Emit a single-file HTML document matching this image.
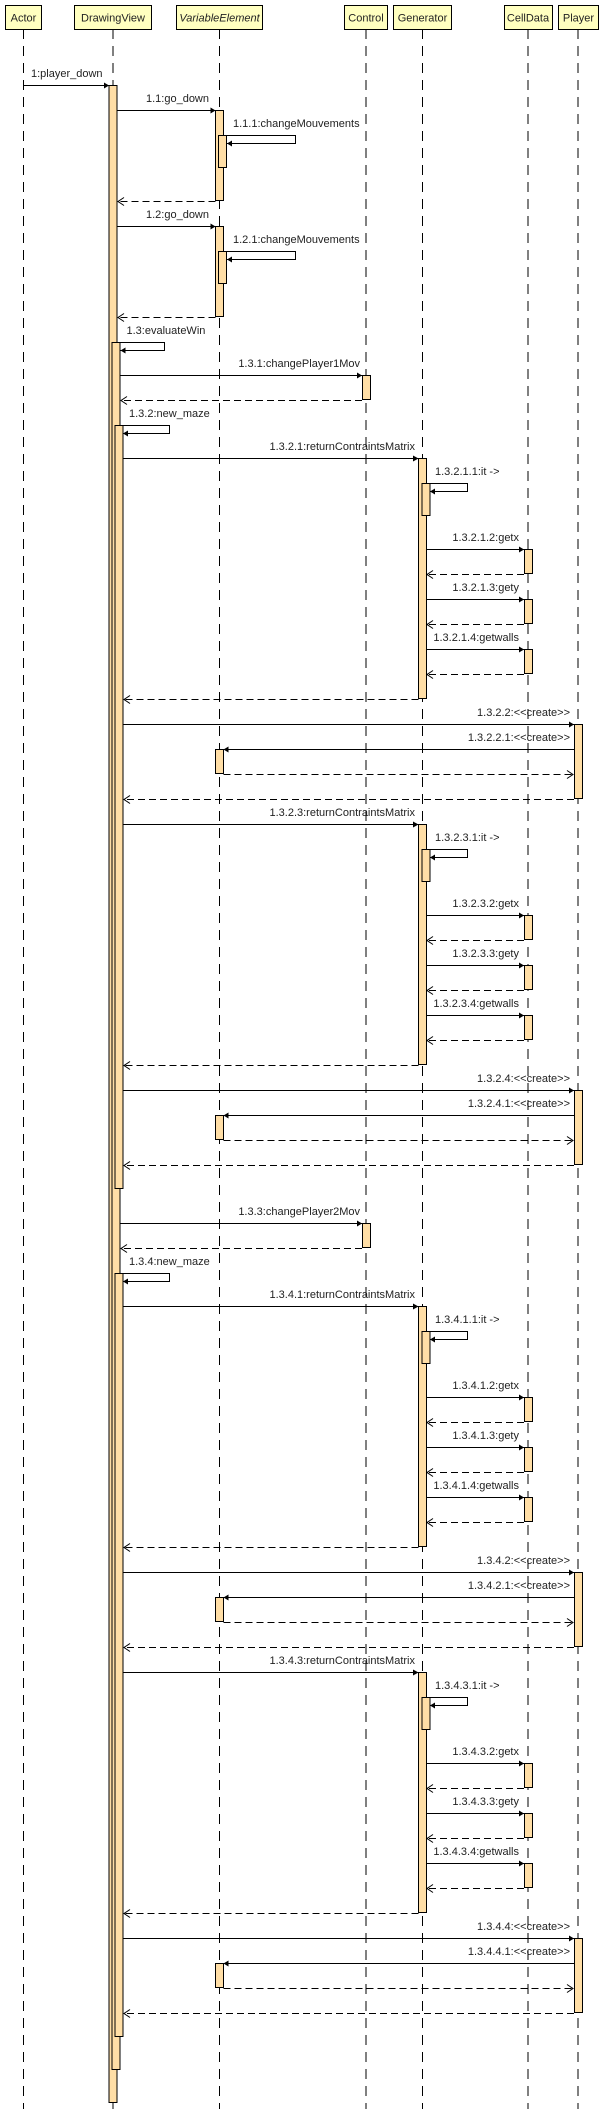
<!DOCTYPE html>
<html><head><meta charset="utf-8"><style>
html,body{margin:0;padding:0;background:#fff;}
svg{display:block;}
text{font-family:"Liberation Sans",Arial,sans-serif;font-size:11px;fill:#222;}
.h{font-size:11px;text-anchor:middle;}
.e{text-anchor:end;}
.ll{stroke:#000;stroke-width:1;stroke-dasharray:10,7;fill:none;}
.act{fill:#FFDEA6;stroke:#000;stroke-width:1;}
.hd{fill:#FFFFC0;stroke:#000;stroke-width:1;}
.m{stroke:#000;stroke-width:1;fill:none;}
.r{stroke:#000;stroke-width:1;fill:none;stroke-dasharray:7,4;}
.ah{fill:#000;stroke:none;}
.oa{fill:none;stroke:#000;stroke-width:1;}
</style></head><body>
<svg width="600" height="2109" viewBox="0 0 600 2109" xmlns="http://www.w3.org/2000/svg">
<defs>
<g id="blk">
  <line class="m" x1="123" y1="0.5" x2="418.5" y2="0.5"/><polygon class="ah" points="418.5,0.5 413,-2.5 413,3.5"/>
  <rect class="act" x="418.5" y="0.5" width="8" height="240"/>
  <path class="m" d="M426.5,25.5 H467.5 V33.5 H430"/><polygon class="ah" points="430,33.5 435,30.5 435,36.5"/>
  <rect class="act" x="422" y="25.5" width="8" height="32"/>
  <line class="m" x1="426.5" y1="91.5" x2="524" y2="91.5"/><polygon class="ah" points="524,91.5 519,88.5 519,94.5"/>
  <rect class="act" x="524.5" y="91.5" width="8" height="24"/>
  <line class="r" x1="524" y1="116.5" x2="427" y2="116.5"/><polyline class="oa" points="433,112.5 427,116.5 433,120.5"/>
  <line class="m" x1="426.5" y1="141.5" x2="524" y2="141.5"/><polygon class="ah" points="524,141.5 519,138.5 519,144.5"/>
  <rect class="act" x="524.5" y="141.5" width="8" height="24"/>
  <line class="r" x1="524" y1="166.5" x2="427" y2="166.5"/><polyline class="oa" points="433,162.5 427,166.5 433,170.5"/>
  <line class="m" x1="426.5" y1="191.5" x2="524" y2="191.5"/><polygon class="ah" points="524,191.5 519,188.5 519,194.5"/>
  <rect class="act" x="524.5" y="191.5" width="8" height="24"/>
  <line class="r" x1="524" y1="216.5" x2="427" y2="216.5"/><polyline class="oa" points="433,212.5 427,216.5 433,220.5"/>
  <line class="r" x1="418.5" y1="241.5" x2="124" y2="241.5"/><polyline class="oa" points="130,237.5 124,241.5 130,245.5"/>
  <line class="m" x1="123" y1="266.5" x2="574" y2="266.5"/><polygon class="ah" points="574,266.5 569,263.5 569,269.5"/>
  <rect class="act" x="574.5" y="266.5" width="8" height="74"/>
  <line class="m" x1="574" y1="291.5" x2="223.5" y2="291.5"/><polygon class="ah" points="223.5,291.5 228.5,288.5 228.5,294.5"/>
  <rect class="act" x="215.5" y="291.5" width="8" height="24"/>
  <line class="r" x1="223.5" y1="316.5" x2="573" y2="316.5"/><polyline class="oa" points="567,312.5 573,316.5 567,320.5"/>
  <line class="r" x1="574" y1="341.5" x2="124" y2="341.5"/><polyline class="oa" points="130,337.5 124,341.5 130,345.5"/>
</g>
</defs>
<line class="ll" x1="23.5" y1="29" x2="23.5" y2="2109"/>
<line class="ll" x1="113" y1="29" x2="113" y2="2109"/>
<line class="ll" x1="219.5" y1="29" x2="219.5" y2="2109"/>
<line class="ll" x1="366" y1="29" x2="366" y2="2109"/>
<line class="ll" x1="422.5" y1="29" x2="422.5" y2="2109"/>
<line class="ll" x1="528" y1="29" x2="528" y2="2109"/>
<line class="ll" x1="578" y1="29" x2="578" y2="2109"/>
<rect class="hd" x="5.5" y="5.5" width="36" height="24"/><text class="h" x="23.5" y="21.5">Actor</text>
<rect class="hd" x="74.5" y="5.5" width="77" height="24"/><text class="h" x="113" y="21.5">DrawingView</text>
<rect class="hd" x="176.5" y="5.5" width="86" height="24"/><text class="h" x="219.5" y="21.5" font-style="italic">VariableElement</text>
<rect class="hd" x="344.5" y="5.5" width="43" height="24"/><text class="h" x="366" y="21.5">Control</text>
<rect class="hd" x="393.5" y="5.5" width="58" height="24"/><text class="h" x="422.5" y="21.5">Generator</text>
<rect class="hd" x="504.5" y="5.5" width="48" height="24"/><text class="h" x="528" y="21.5">CellData</text>
<rect class="hd" x="558.5" y="5.5" width="40" height="24"/><text class="h" x="578.5" y="21.5">Player</text>

<rect class="act" x="109" y="85.5" width="8" height="2017"/>
<rect class="act" x="112" y="342.5" width="8" height="1727"/>
<rect class="act" x="115" y="425.5" width="8" height="763"/>
<rect class="act" x="115" y="1273.5" width="8" height="763"/>

<text x="31" y="77">1:player_down</text>
<line class="m" x1="23.5" y1="85.5" x2="109" y2="85.5"/><polygon class="ah" points="109,85.5 104,82.5 104,88.5"/>

<text class="e" x="209" y="102">1.1:go_down</text>
<line class="m" x1="117" y1="110.5" x2="215.5" y2="110.5"/><polygon class="ah" points="215.5,110.5 210.5,107.5 210.5,113.5"/>
<rect class="act" x="215.5" y="110.5" width="8" height="90"/>
<text x="233" y="127">1.1.1:changeMouvements</text>
<path class="m" d="M223.5,135.5 H295.5 V143.5 H227"/><polygon class="ah" points="227,143.5 232,140.5 232,146.5"/>
<rect class="act" x="218.5" y="135.5" width="8" height="32"/>
<line class="r" x1="215.5" y1="201.5" x2="118" y2="201.5"/><polyline class="oa" points="124,197.5 118,201.5 124,205.5"/>

<text class="e" x="209" y="218">1.2:go_down</text>
<line class="m" x1="117" y1="226.5" x2="215.5" y2="226.5"/><polygon class="ah" points="215.5,226.5 210.5,223.5 210.5,229.5"/>
<rect class="act" x="215.5" y="226.5" width="8" height="90"/>
<text x="233" y="243">1.2.1:changeMouvements</text>
<path class="m" d="M223.5,251.5 H295.5 V259.5 H227"/><polygon class="ah" points="227,259.5 232,256.5 232,262.5"/>
<rect class="act" x="218.5" y="251.5" width="8" height="32"/>
<line class="r" x1="215.5" y1="317.5" x2="118" y2="317.5"/><polyline class="oa" points="124,313.5 118,317.5 124,321.5"/>

<text x="126.5" y="334">1.3:evaluateWin</text>
<path class="m" d="M117,342.5 H164.5 V350.5 H120.5"/><polygon class="ah" points="120.5,350.5 125.5,347.5 125.5,353.5"/>

<text class="e" x="360" y="367">1.3.1:changePlayer1Mov</text>
<line class="m" x1="120" y1="375.5" x2="362" y2="375.5"/><polygon class="ah" points="362,375.5 357,372.5 357,378.5"/>
<rect class="act" x="362.5" y="375.5" width="8" height="24"/>
<line class="r" x1="362" y1="400.5" x2="121" y2="400.5"/><polyline class="oa" points="127,396.5 121,400.5 127,404.5"/>

<text x="129" y="417">1.3.2:new_maze</text>
<path class="m" d="M120,425.5 H169.5 V433.5 H123"/><polygon class="ah" points="123,433.5 128,430.5 128,436.5"/>

<use href="#blk" x="0" y="458"/>
<text class="e" x="415" y="450">1.3.2.1:returnContraintsMatrix</text>
<text x="435" y="475">1.3.2.1.1:it -&gt;</text>
<text class="e" x="519" y="541">1.3.2.1.2:getx</text>
<text class="e" x="519" y="591">1.3.2.1.3:gety</text>
<text class="e" x="519" y="641">1.3.2.1.4:getwalls</text>
<text class="e" x="570" y="716">1.3.2.2:&lt;&lt;create&gt;&gt;</text>
<text class="e" x="570" y="741">1.3.2.2.1:&lt;&lt;create&gt;&gt;</text>

<use href="#blk" x="0" y="824"/>
<text class="e" x="415" y="816">1.3.2.3:returnContraintsMatrix</text>
<text x="435" y="841">1.3.2.3.1:it -&gt;</text>
<text class="e" x="519" y="907">1.3.2.3.2:getx</text>
<text class="e" x="519" y="957">1.3.2.3.3:gety</text>
<text class="e" x="519" y="1007">1.3.2.3.4:getwalls</text>
<text class="e" x="570" y="1082">1.3.2.4:&lt;&lt;create&gt;&gt;</text>
<text class="e" x="570" y="1107">1.3.2.4.1:&lt;&lt;create&gt;&gt;</text>

<text class="e" x="360" y="1215">1.3.3:changePlayer2Mov</text>
<line class="m" x1="120" y1="1223.5" x2="362" y2="1223.5"/><polygon class="ah" points="362,1223.5 357,1220.5 357,1226.5"/>
<rect class="act" x="362.5" y="1223.5" width="8" height="24"/>
<line class="r" x1="362" y1="1248.5" x2="121" y2="1248.5"/><polyline class="oa" points="127,1244.5 121,1248.5 127,1252.5"/>

<text x="129" y="1265">1.3.4:new_maze</text>
<path class="m" d="M120,1273.5 H169.5 V1281.5 H123"/><polygon class="ah" points="123,1281.5 128,1278.5 128,1284.5"/>

<use href="#blk" x="0" y="1306"/>
<text class="e" x="415" y="1298">1.3.4.1:returnContraintsMatrix</text>
<text x="435" y="1323">1.3.4.1.1:it -&gt;</text>
<text class="e" x="519" y="1389">1.3.4.1.2:getx</text>
<text class="e" x="519" y="1439">1.3.4.1.3:gety</text>
<text class="e" x="519" y="1489">1.3.4.1.4:getwalls</text>
<text class="e" x="570" y="1564">1.3.4.2:&lt;&lt;create&gt;&gt;</text>
<text class="e" x="570" y="1589">1.3.4.2.1:&lt;&lt;create&gt;&gt;</text>

<use href="#blk" x="0" y="1672"/>
<text class="e" x="415" y="1664">1.3.4.3:returnContraintsMatrix</text>
<text x="435" y="1689">1.3.4.3.1:it -&gt;</text>
<text class="e" x="519" y="1755">1.3.4.3.2:getx</text>
<text class="e" x="519" y="1805">1.3.4.3.3:gety</text>
<text class="e" x="519" y="1855">1.3.4.3.4:getwalls</text>
<text class="e" x="570" y="1930">1.3.4.4:&lt;&lt;create&gt;&gt;</text>
<text class="e" x="570" y="1955">1.3.4.4.1:&lt;&lt;create&gt;&gt;</text>
</svg>
</body></html>
